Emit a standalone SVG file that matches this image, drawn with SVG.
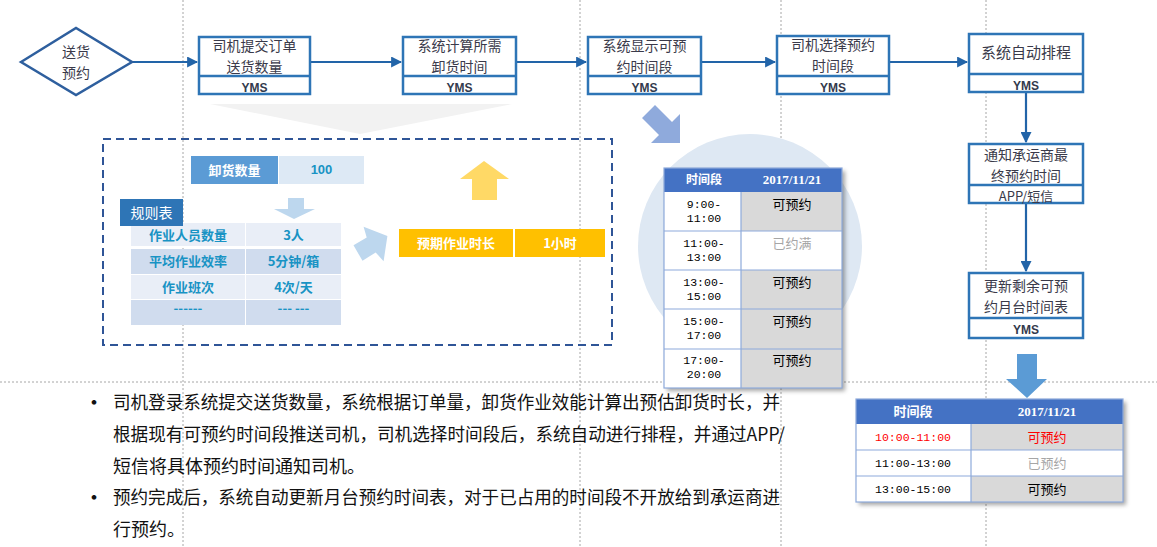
<svg xmlns="http://www.w3.org/2000/svg" width="1157" height="547" viewBox="0 0 1157 547">
<defs>
<style>
.guide{stroke:#a6a6a6;stroke-width:1;stroke-dasharray:2,2;fill:none}
.box{fill:#fff;stroke:#2e75b6;stroke-width:2.5}
.div{stroke:#2e75b6;stroke-width:2.5}
.ft{font-family:"Noto Sans CJK SC","Noto Sans",sans-serif;font-size:14px;fill:#3a3a4a;text-anchor:middle}
.ys{font-family:"Liberation Sans",Arial,sans-serif;font-size:12px;font-weight:bold;fill:#333a4d;text-anchor:middle}
.conn{stroke:#2264a8;stroke-width:2.2;fill:none}
.th{font-family:"Noto Sans CJK SC","Liberation Serif",serif;font-size:12px;font-weight:bold;fill:#fff;text-anchor:middle}
.tm{font-family:"Liberation Mono","DejaVu Sans Mono",monospace;font-size:11.5px;fill:#000;text-anchor:middle}
.tc{font-family:"Noto Sans CJK SC",sans-serif;font-size:13px;fill:#000;text-anchor:middle}
.rt{font-family:"Noto Sans CJK SC",sans-serif;font-size:13px;font-weight:bold;fill:#1893c4;text-anchor:middle}
.wt{font-family:"Noto Sans CJK SC",sans-serif;font-size:13px;font-weight:bold;fill:#fff;text-anchor:middle}
.body{font-family:"Noto Sans CJK SC",sans-serif;font-size:18px;fill:#111}
.tline{stroke:#8eaadb;stroke-width:1.2}
</style>
<marker id="ah" viewBox="0 0 10 10" refX="9" refY="5" markerWidth="5" markerHeight="5" orient="auto" markerUnits="strokeWidth">
<path d="M0,0 L10,5 L0,10 z" fill="#2264a8"/>
</marker>
<filter id="sh" x="-10%" y="-10%" width="125%" height="125%">
<feDropShadow dx="3" dy="3" stdDeviation="2" flood-color="#000" flood-opacity="0.35"/>
</filter>
</defs>
<rect width="1157" height="547" fill="#fff"/>

<g id="guides">
<line class="guide" x1="183" y1="0" x2="183" y2="547"/>
<line class="guide" x1="580" y1="0" x2="580" y2="547"/>
<line class="guide" x1="781" y1="0" x2="781" y2="547"/>
<line class="guide" x1="986" y1="0" x2="986" y2="547"/>
<line class="guide" x1="0" y1="382" x2="1157" y2="382"/>
</g>

<g id="background-shapes">
<polygon points="210,104 512,104 360,134" fill="#f2f2f2"/>
<circle cx="750" cy="246" r="112" fill="#dee8f3"/>
<polygon points="655,105 672,122 680,114 680,143 651,143 659,135 642,118" fill="#8faadc"/>
</g>

<g id="connectors">
<line class="conn" x1="132" y1="62" x2="197" y2="62" marker-end="url(#ah)"/>
<line class="conn" x1="311" y1="62" x2="401" y2="62" marker-end="url(#ah)"/>
<line class="conn" x1="517" y1="62" x2="586" y2="62" marker-end="url(#ah)"/>
<line class="conn" x1="702" y1="62" x2="775" y2="62" marker-end="url(#ah)"/>
<line class="conn" x1="890" y1="62" x2="967" y2="62" marker-end="url(#ah)"/>
<line class="conn" x1="1026" y1="93" x2="1026" y2="142" marker-end="url(#ah)"/>
<line class="conn" x1="1026" y1="204" x2="1026" y2="271" marker-end="url(#ah)"/>
</g>

<g id="start">
<polygon points="21,62 76,28 132,62 76,95" fill="#fff" stroke="#2e5f9e" stroke-width="2.5"/>
<text class="ft" x="76" y="57"><tspan x="76">送货</tspan><tspan x="76" dy="20.5">预约</tspan></text>
</g>

<g id="n1">
<rect class="box" x="199" y="37" width="111" height="57"/>
<line class="div" x1="199" y1="76" x2="310" y2="76"/>
<text class="ft" x="254.5" y="51"><tspan x="254.5">司机提交订单</tspan><tspan x="254.5" dy="20.5">送货数量</tspan></text>
<text class="ys" x="254.5" y="92">YMS</text>
</g>

<g id="n2">
<rect class="box" x="403" y="37" width="113" height="57"/>
<line class="div" x1="403" y1="76" x2="516" y2="76"/>
<text class="ft" x="459.5" y="51"><tspan x="459.5">系统计算所需</tspan><tspan x="459.5" dy="20.5">卸货时间</tspan></text>
<text class="ys" x="459.5" y="92">YMS</text>
</g>

<g id="n3">
<rect class="box" x="588" y="37" width="113" height="57"/>
<line class="div" x1="588" y1="76" x2="701" y2="76"/>
<text class="ft" x="644.5" y="51"><tspan x="644.5">系统显示可预</tspan><tspan x="644.5" dy="20.5">约时间段</tspan></text>
<text class="ys" x="644.5" y="92">YMS</text>
</g>

<g id="n4">
<rect class="box" x="777" y="36" width="112" height="58"/>
<line class="div" x1="777" y1="76" x2="889" y2="76"/>
<text class="ft" x="833" y="50"><tspan x="833">司机选择预约</tspan><tspan x="833" dy="20.5">时间段</tspan></text>
<text class="ys" x="833" y="92">YMS</text>
</g>

<g id="n5">
<rect class="box" x="969" y="34" width="114" height="58"/>
<line class="div" x1="969" y1="74" x2="1083" y2="74"/>
<text class="ft" x="1026" y="58" style="font-size:15px">系统自动排程</text>
<text class="ys" x="1026" y="90">YMS</text>
</g>

<g id="n6">
<rect class="box" x="969" y="144" width="114" height="59"/>
<line class="div" x1="969" y1="185" x2="1083" y2="185"/>
<text class="ft" x="1026" y="160"><tspan x="1026">通知承运商最</tspan><tspan x="1026" dy="20.5">终预约时间</tspan></text>
<text class="ft" x="1026" y="201" style="font-size:13px">APP/短信</text>
</g>

<g id="n7">
<rect class="box" x="969" y="273" width="114" height="65"/>
<line class="div" x1="969" y1="318" x2="1083" y2="318"/>
<text class="ft" x="1026" y="291"><tspan x="1026">更新剩余可预</tspan><tspan x="1026" dy="20.5">约月台时间表</tspan></text>
<text class="ys" x="1026" y="334">YMS</text>
</g>

<g id="down-arrow">
<polygon points="1017,354 1037,354 1037,379 1047,379 1027,398 1006,379 1017,379" fill="#5b9bd5"/>
</g>

<g id="calc-panel">
<rect x="103" y="139" width="509" height="206" fill="none" stroke="#2f5597" stroke-width="2" stroke-dasharray="8,5"/>
<rect x="191" y="156" width="87" height="28" fill="#5b9bd5"/>
<text class="wt" x="234.5" y="175">卸货数量</text>
<rect x="279" y="156" width="85" height="28" fill="#dde9f5"/>
<text class="rt" x="321.5" y="174" style="font-family:'Liberation Sans',sans-serif">100</text>
<polygon points="288,198 304,198 304,209 315,209 294,219 274,209 288,209" fill="#bdd7ee"/>
<polygon points="472,200 497,200 497,179 509,179 484,161 460,179 472,179" fill="#ffd966"/>
<polygon points="353.5,245.2 366.7,237.6 363.6,226.7 387.4,236 383.6,261.3 375.7,252.4 362.5,260.8" fill="#bdd7ee"/>
<rect x="131" y="223" width="114" height="23" fill="#e9eef7"/>
<rect x="246" y="223" width="95" height="23" fill="#e9eef7"/>
<rect x="131" y="249" width="114" height="25" fill="#d0dcee"/>
<rect x="246" y="249" width="95" height="25" fill="#d0dcee"/>
<rect x="131" y="275" width="114" height="24" fill="#e9eef7"/>
<rect x="246" y="275" width="95" height="24" fill="#e9eef7"/>
<rect x="131" y="300" width="114" height="25" fill="#d0dcee"/>
<rect x="246" y="300" width="95" height="25" fill="#d0dcee"/>
<rect x="120" y="199" width="63" height="27" fill="#2e75b6"/>
<text class="wt" x="151.5" y="218" style="font-weight:normal;font-size:14px">规则表</text>
<text class="rt" x="188" y="240">作业人员数量</text>
<text class="rt" x="293.5" y="240">3人</text>
<text class="rt" x="188" y="266">平均作业效率</text>
<text class="rt" x="293.5" y="266">5分钟/箱</text>
<text class="rt" x="188" y="292">作业班次</text>
<text class="rt" x="293.5" y="292">4次/天</text>
<text class="rt" x="188" y="313">------</text>
<text class="rt" x="293.5" y="313">--- ---</text>
<rect x="399" y="229" width="114" height="28" fill="#ffc000"/>
<text class="wt" x="456" y="248">预期作业时长</text>
<rect x="515" y="229" width="90" height="28" fill="#ffc000"/>
<text class="wt" x="560" y="248">1小时</text>
</g>

<g id="slot-table">
<g filter="url(#sh)">
<rect x="664" y="168" width="178" height="220" fill="#fff"/>
</g>
<rect x="664" y="168" width="178" height="24" fill="#4472c4"/>
<rect x="741" y="192" width="101" height="39" fill="#d9d9d9"/>
<rect x="741" y="270" width="101" height="118" fill="#d9d9d9"/>
<line class="tline" x1="664" y1="231" x2="842" y2="231"/>
<line class="tline" x1="664" y1="270" x2="842" y2="270"/>
<line class="tline" x1="664" y1="309" x2="842" y2="309"/>
<line class="tline" x1="664" y1="349" x2="842" y2="349"/>
<line class="tline" x1="741" y1="192" x2="741" y2="388"/>
<rect x="664" y="168" width="178" height="220" fill="none" stroke="#8eaadb" stroke-width="1.2"/>
<text class="th" x="704" y="184">时间段</text>
<text class="th" x="792" y="184" style="font-family:'Liberation Serif',serif;font-size:13px">2017/11/21</text>
<text class="tm" x="704" y="208"><tspan x="704">9:00-</tspan><tspan x="704" dy="14">11:00</tspan></text>
<text class="tm" x="704" y="247"><tspan x="704">11:00-</tspan><tspan x="704" dy="14">13:00</tspan></text>
<text class="tm" x="704" y="286"><tspan x="704">13:00-</tspan><tspan x="704" dy="14">15:00</tspan></text>
<text class="tm" x="704" y="325"><tspan x="704">15:00-</tspan><tspan x="704" dy="14">17:00</tspan></text>
<text class="tm" x="704" y="364"><tspan x="704">17:00-</tspan><tspan x="704" dy="14">20:00</tspan></text>
<text class="tc" x="792" y="209">可预约</text>
<text class="tc" x="792" y="248" style="fill:#a6a6a6">已约满</text>
<text class="tc" x="792" y="287">可预约</text>
<text class="tc" x="792" y="326">可预约</text>
<text class="tc" x="792" y="365">可预约</text>
</g>

<g id="dock-table">
<g filter="url(#sh)">
<rect x="856" y="399" width="267" height="103" fill="#fff"/>
</g>
<rect x="856" y="399" width="267" height="25" fill="#4472c4"/>
<rect x="971" y="424" width="152" height="26" fill="#d9d9d9"/>
<rect x="971" y="476" width="152" height="26" fill="#d9d9d9"/>
<line class="tline" x1="856" y1="450" x2="1123" y2="450"/>
<line class="tline" x1="856" y1="476" x2="1123" y2="476"/>
<line class="tline" x1="971" y1="424" x2="971" y2="502"/>
<rect x="856" y="399" width="267" height="103" fill="none" stroke="#8eaadb" stroke-width="1.2"/>
<text class="th" x="913" y="416" style="font-size:13px">时间段</text>
<text class="th" x="1047" y="416" style="font-family:'Liberation Serif',serif;font-size:13px">2017/11/21</text>
<text class="tm" x="913" y="441" style="fill:#ff0000">10:00-11:00</text>
<text class="tm" x="913" y="467">11:00-13:00</text>
<text class="tm" x="913" y="493">13:00-15:00</text>
<text class="tc" x="1047" y="442" style="fill:#ff0000">可预约</text>
<text class="tc" x="1047" y="468" style="fill:#a6a6a6">已预约</text>
<text class="tc" x="1047" y="494">可预约</text>
</g>

<g id="notes">
<text class="body" x="83" y="410" style="font-size:22px">•</text>
<text class="body" x="113" y="409" textLength="667" lengthAdjust="spacingAndGlyphs">司机登录系统提交送货数量，系统根据订单量，卸货作业效能计算出预估卸货时长，并</text>
<text class="body" x="113" y="441" textLength="672" lengthAdjust="spacingAndGlyphs">根据现有可预约时间段推送司机，司机选择时间段后，系统自动进行排程，并通过APP/</text>
<text class="body" x="113" y="473" textLength="252" lengthAdjust="spacingAndGlyphs">短信将具体预约时间通知司机。</text>
<text class="body" x="83" y="505" style="font-size:22px">•</text>
<text class="body" x="113" y="504" textLength="667" lengthAdjust="spacingAndGlyphs">预约完成后，系统自动更新月台预约时间表，对于已占用的时间段不开放给到承运商进</text>
<text class="body" x="113" y="536" textLength="72" lengthAdjust="spacingAndGlyphs">行预约。</text>
</g>
</svg>
